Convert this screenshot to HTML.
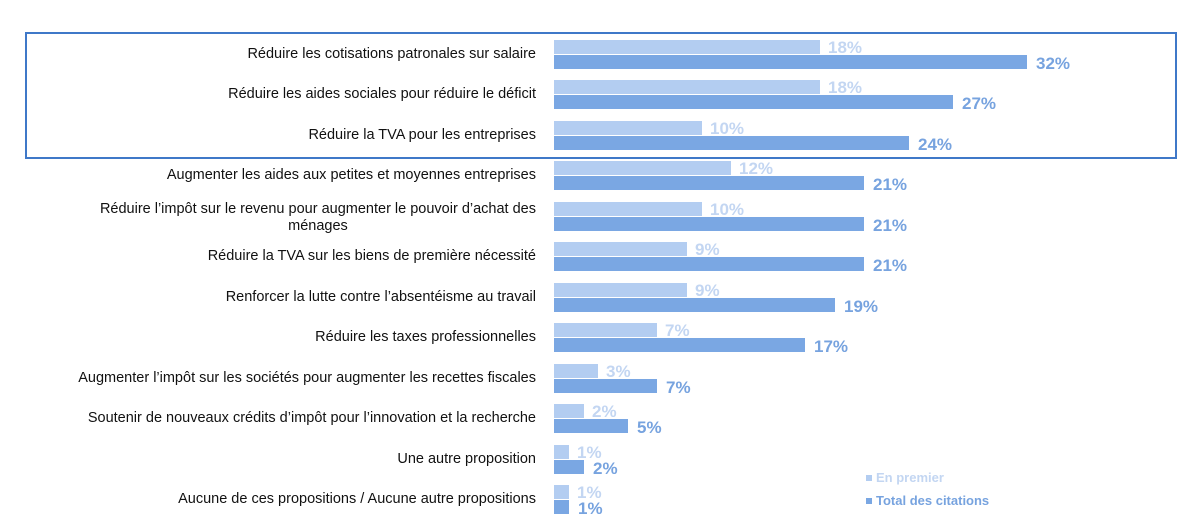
<!DOCTYPE html>
<html><head><meta charset="utf-8"><style>
body{margin:0;width:1198px;height:526px;background:#fff;position:relative;overflow:hidden;font-family:"Liberation Sans",Arial,sans-serif}
.lab{position:absolute;right:662px;font-size:14.5px;color:#111;text-align:right;line-height:17px;white-space:nowrap}
.b{position:absolute;left:554px;height:14px}
.l{background:#b3cdf1}.d{background:#7aa7e3}
.v{position:absolute;font-size:17px;font-weight:bold;line-height:17px}
.vl{color:#c3d6f2}.vd{color:#77a3df}
.box{position:absolute;left:25px;top:32px;width:1148px;height:123px;border:2px solid #3f78c8}
.lg{position:absolute;left:866px;font-size:13px;font-weight:bold}
.lg span{display:inline-block;width:6px;height:6px;margin-right:4px;vertical-align:1px}
</style></head><body>
<div class="box"></div>
<div id="c"></div>
<div class="lg" style="top:470px;color:#c3d6f2"><span style="background:#b3cdf1"></span>En premier</div>
<div class="lg" style="top:493px;color:#77a3df"><span style="background:#7aa7e3"></span>Total des citations</div>
<script>
var rows=[
["Réduire les cotisations patronales sur salaire",18,32],
["Réduire les aides sociales pour réduire le déficit",18,27],
["Réduire la TVA pour les entreprises",10,24],
["Augmenter les aides aux petites et moyennes entreprises",12,21],
["Réduire l’impôt sur le revenu pour augmenter le pouvoir d’achat des<br>ménages",10,21],
["Réduire la TVA sur les biens de première nécessité",9,21],
["Renforcer la lutte contre l’absentéisme au travail",9,19],
["Réduire les taxes professionnelles",7,17],
["Augmenter l’impôt sur les sociétés pour augmenter les recettes fiscales",3,7],
["Soutenir de nouveaux crédits d’impôt pour l’innovation et la recherche",2,5],
["Une autre proposition",1,2],
["Aucune de ces propositions / Aucune autre propositions",1,1]];
var h="",s=14.78;
rows.forEach(function(r,i){
var t=40+i*40.45;
var two=r[0].indexOf("<br>")>=0;
h+='<div class="lab" style="top:'+(two?t-1:t+6)+'px'+(two?';text-align:center':'')+'">'+r[0]+'</div>';
var w1=Math.max(14,Math.round(r[1]*s)),w2=Math.max(14,Math.round(r[2]*s));
h+='<div class="b l" style="top:'+t+'px;width:'+w1+'px"></div>';
h+='<div class="b d" style="top:'+(t+15)+'px;width:'+w2+'px"></div>';
h+='<div class="v vl" style="top:'+(t-1)+'px;left:'+(554+w1+8)+'px">'+r[1]+'%</div>';
h+='<div class="v vd" style="top:'+(t+15)+'px;left:'+(554+w2+9)+'px">'+r[2]+'%</div>';
});
document.getElementById("c").innerHTML=h;
</script>
</body></html>
